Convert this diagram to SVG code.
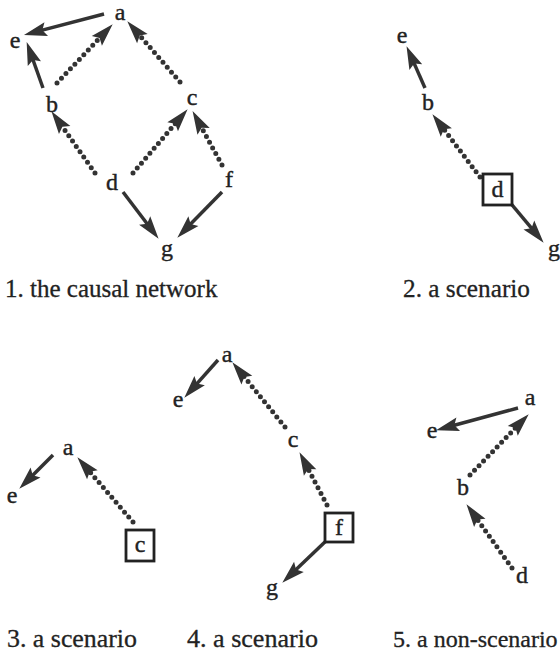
<svg xmlns="http://www.w3.org/2000/svg" width="560" height="656" viewBox="0 0 560 656">
<style>
.t{font-family:"Liberation Serif","Times New Roman",serif;font-size:24px;fill:#222;stroke:#222;stroke-width:0.4;text-anchor:middle}
.lbl{font-family:"Liberation Serif","Times New Roman",serif;font-size:25px;fill:#222;stroke:#222;stroke-width:0.3}
.s{stroke:#333;stroke-width:3.5;fill:none;marker-end:url(#ah)}
.d{stroke:#333;stroke-width:5;fill:none;stroke-linecap:round;stroke-dasharray:0 6.5;marker-end:url(#ah)}
.box{fill:#fff;stroke:#222;stroke-width:2.8}
</style>
<defs>
<marker id="ah" markerUnits="userSpaceOnUse" orient="auto" refX="0" refY="0" markerWidth="40" markerHeight="40" overflow="visible">
<path d="M18,0 L-5,-7 L-1,0 L-5,7 Z" fill="#333"/>
</marker>
</defs>
<rect width="560" height="656" fill="#fff"/>
<g id="connectors">
<line class="s" x1="104" y1="14" x2="41.4" y2="30.4"/>
<line class="s" x1="43" y1="88" x2="32.7" y2="59"/>
<line class="d" x1="57" y1="83" x2="100.3" y2="37.3"/>
<line class="d" x1="180" y1="82" x2="139.1" y2="34.8"/>
<line class="d" x1="95" y1="173" x2="61.8" y2="125.9"/>
<line class="d" x1="133" y1="173" x2="175.9" y2="122.9"/>
<line class="d" x1="222" y1="165" x2="201.2" y2="126.9"/>
<line class="s" x1="123" y1="192" x2="147.7" y2="224.5"/>
<line class="s" x1="222" y1="192" x2="189.9" y2="224.8"/>
<line class="s" x1="425" y1="88" x2="413.8" y2="62.6"/>
<line class="d" x1="480" y1="177" x2="443.3" y2="128.5"/>
<line class="s" x1="508" y1="200" x2="532.1" y2="228.9"/>
<line class="s" x1="53" y1="455" x2="32" y2="476"/>
<line class="d" x1="133" y1="522" x2="89.1" y2="470.9"/>
<line class="s" x1="218" y1="360" x2="196.3" y2="384.3"/>
<line class="d" x1="285" y1="427" x2="243.7" y2="376.2"/>
<line class="d" x1="327" y1="505" x2="307.8" y2="468.1"/>
<line class="s" x1="327" y1="540" x2="295.3" y2="570.3"/>
<line class="s" x1="518" y1="408" x2="453.4" y2="425.5"/>
<line class="d" x1="470" y1="475" x2="516.2" y2="427.2"/>
<line class="d" x1="512" y1="568" x2="476.9" y2="518.8"/>
</g>
<g id="p1-a"><text class="t" x="120" y="20">a</text></g>
<g id="p1-e"><text class="t" x="15" y="48">e</text></g>
<g id="p1-b"><text class="t" x="52" y="112">b</text></g>
<g id="p1-c"><text class="t" x="192" y="105">c</text></g>
<g id="p1-d"><text class="t" x="112" y="190">d</text></g>
<g id="p1-f"><text class="t" x="229" y="187">f</text></g>
<g id="p1-g"><text class="t" x="167" y="256">g</text></g>
<g id="p2-e"><text class="t" x="402" y="43">e</text></g>
<g id="p2-b"><text class="t" x="428" y="110">b</text></g>
<g id="p2-d"><rect class="box" x="483" y="174" width="29" height="31"/><text class="t" x="497.5" y="197">d</text></g>
<g id="p2-g"><text class="t" x="554" y="256">g</text></g>
<g id="p3-a"><text class="t" x="68" y="455">a</text></g>
<g id="p3-e"><text class="t" x="12" y="503">e</text></g>
<g id="p3-c"><rect class="box" x="126" y="530" width="28" height="31"/><text class="t" x="140" y="552">c</text></g>
<g id="p4-a"><text class="t" x="227" y="362">a</text></g>
<g id="p4-e"><text class="t" x="178" y="407">e</text></g>
<g id="p4-c"><text class="t" x="293" y="447">c</text></g>
<g id="p4-f"><rect class="box" x="325" y="513" width="28" height="29"/><text class="t" x="339" y="535">f</text></g>
<g id="p4-g"><text class="t" x="272" y="595">g</text></g>
<g id="p5-a"><text class="t" x="530" y="405">a</text></g>
<g id="p5-e"><text class="t" x="432" y="438">e</text></g>
<g id="p5-b"><text class="t" x="463" y="495">b</text></g>
<g id="p5-d"><text class="t" x="522" y="583">d</text></g>
<g id="labels">
<text class="lbl" x="5" y="297">1. the causal network</text>
<text class="lbl" x="403" y="297" textLength="127" lengthAdjust="spacingAndGlyphs">2. a scenario</text>
<text class="lbl" x="7" y="647" textLength="130" lengthAdjust="spacingAndGlyphs">3. a scenario</text>
<text class="lbl" x="187" y="647" textLength="131" lengthAdjust="spacingAndGlyphs">4. a scenario</text>
<text class="lbl" x="393" y="647" style="font-size:24px">5. a non-scenario</text>
</g>
</svg>
